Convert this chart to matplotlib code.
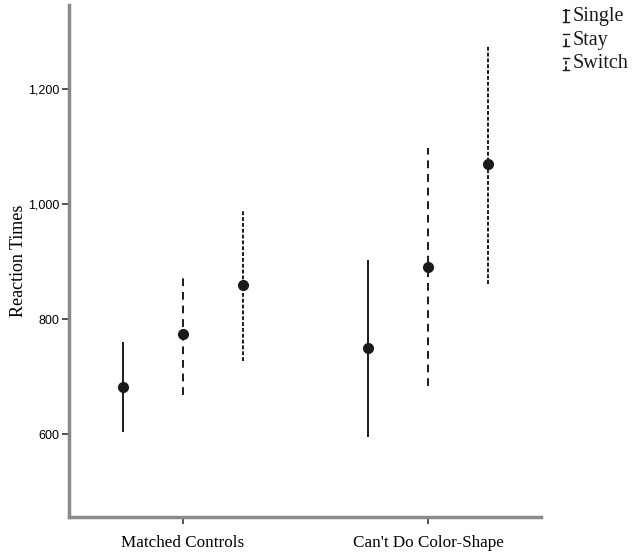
import numpy as np
import matplotlib.pyplot as plt
from matplotlib.lines import Line2D
from matplotlib.ticker import FuncFormatter

groups = ['Matched Controls', "Can't Do Color-Shape"]
conditions = ['Single', 'Stay', 'Switch']

# mean, lower, upper for each condition (rows) and group (columns)
means = [[682, 749], [774, 890], [859, 1069]]
lower = [[604, 595], [668, 683], [727, 861]]
upper = [[760, 903], [880, 1098], [990, 1277]]

styles = ['-', (0, (4, 3)), (0, (2, 1))]
offsets = [-0.245, 0.0, 0.245]
ink = '#1a1a1a'
spine_col = '#8a8a8a'

fig = plt.figure(figsize=(6.35, 5.56), dpi=100)
ax = fig.add_axes([69 / 635, 39 / 556, (541 - 69) / 635, (517 - 5) / 556])

x = np.arange(len(groups))
for i, cond in enumerate(conditions):
    xs = x + offsets[i]
    m = np.array(means[i])
    lo = np.array(lower[i])
    hi = np.array(upper[i])
    ax.vlines(xs, lo, hi, colors=ink, linestyles=styles[i], linewidth=1.4)
    ax.plot(xs, m, 'o', color=ink, markersize=7, zorder=3)

ax.set_xlim(-0.465, 1.461)
ax.set_ylim(456, 1346)
ax.set_xticks(x)
ax.set_xticklabels(groups, family='Liberation Serif', fontsize=12.3)
ax.set_yticks([600, 800, 1000, 1200])
ax.yaxis.set_major_formatter(FuncFormatter(lambda v, p: f'{int(v):,}'))
for lab in ax.get_yticklabels():
    lab.set_family('Liberation Sans')
    lab.set_fontsize(9)
ax.set_ylabel('Reaction Times', family='Liberation Serif', fontsize=13)
ax.yaxis.set_label_coords(-0.088, 0.5)

for side in ['top', 'right']:
    ax.spines[side].set_visible(False)
for side in ['left', 'bottom']:
    ax.spines[side].set_color(spine_col)
    ax.spines[side].set_linewidth(2.5)
ax.tick_params(axis='both', direction='out', length=5, width=1.2, color='#333333')
ax.tick_params(axis='x', pad=8)
ax.tick_params(axis='y', pad=2)

# legend in the top right corner
leg_y = [16, 40, 64]
for i, cond in enumerate(conditions):
    yc = 1 - leg_y[i] / 556
    x0 = 566 / 635
    h = 6 / 556
    fig.add_artist(Line2D([x0, x0], [yc - h, yc + h], color=ink, linestyle=styles[i], linewidth=1.3))
    for yy in (yc - h, yc + h):
        fig.add_artist(Line2D([x0 - 3 / 635, x0 + 3 / 635], [yy, yy], color=ink, linewidth=1.0))
    fig.text(573 / 635, yc, cond, family='Liberation Serif', fontsize=14.5, va='center', ha='left', color=ink)

fig.savefig('out.png', dpi=100)
